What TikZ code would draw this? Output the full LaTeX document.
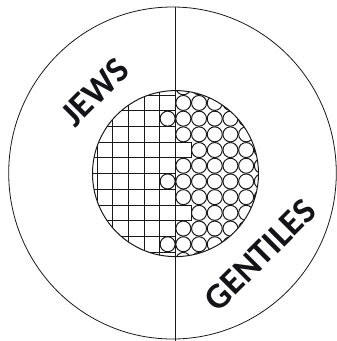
\documentclass[tikz,border=0pt]{standalone}
\usepackage{fontspec}
\setmainfont{Carlito}
\usepackage{tikz}
\usetikzlibrary{calc}
\usepackage{xcolor}
\definecolor{inkLine}{RGB}{25,25,25}
\definecolor{inkText}{RGB}{20,20,24}

\begin{document}
\begin{tikzpicture}[
    x=1pt, y=-1pt,
    rimline/.style={draw=inkLine, line width=0.8pt},
    gridline/.style={draw=inkLine, line width=1pt},
    grouplabel/.style={font=\fontsize{36}{36}\selectfont\bfseries, text=inkText, rotate=45, inner sep=0pt}
]
\useasboundingbox (0,0) rectangle (337,341);
\coordinate (mid) at (175.5,173.6);
\coordinate (top) at (175.5,7.2);
\coordinate (bot) at (175.5,341);

% outer ring and divider
\draw[rimline] (172.5,173) ellipse [x radius=163.8pt, y radius=166pt];
\draw[rimline] (top) -- (bot);

% inner disc: squares on the left, circles on the right
\begin{scope}
  \clip (mid) circle (83pt);
  \foreach \j/\b in {-6/0,-5/0,-4/-1,-3/0,-2/1,-1/0,0/-1,1/0,2/1,3/0,4/-1,5/0} {
    \pgfmathtruncatemacro\last{\b-1}
    \foreach \i in {-6,...,\last}
      \draw[gridline] ($(mid)+(\i*15.7,\j*15.7)$) rectangle ++(15.7,15.7);
    \foreach \i in {\b,...,5}
      \draw[gridline] ($(mid)+(\i*15.7+7.85,\j*15.7+7.85)$) circle (7.5pt);
  }
\end{scope}
\draw[gridline] (mid) circle (83pt);

\node[grouplabel] (jews) at (95,92) {JEWS};
\node[grouplabel] (gentiles) at (260,255) {GENTILES};
\end{tikzpicture}
\end{document}
